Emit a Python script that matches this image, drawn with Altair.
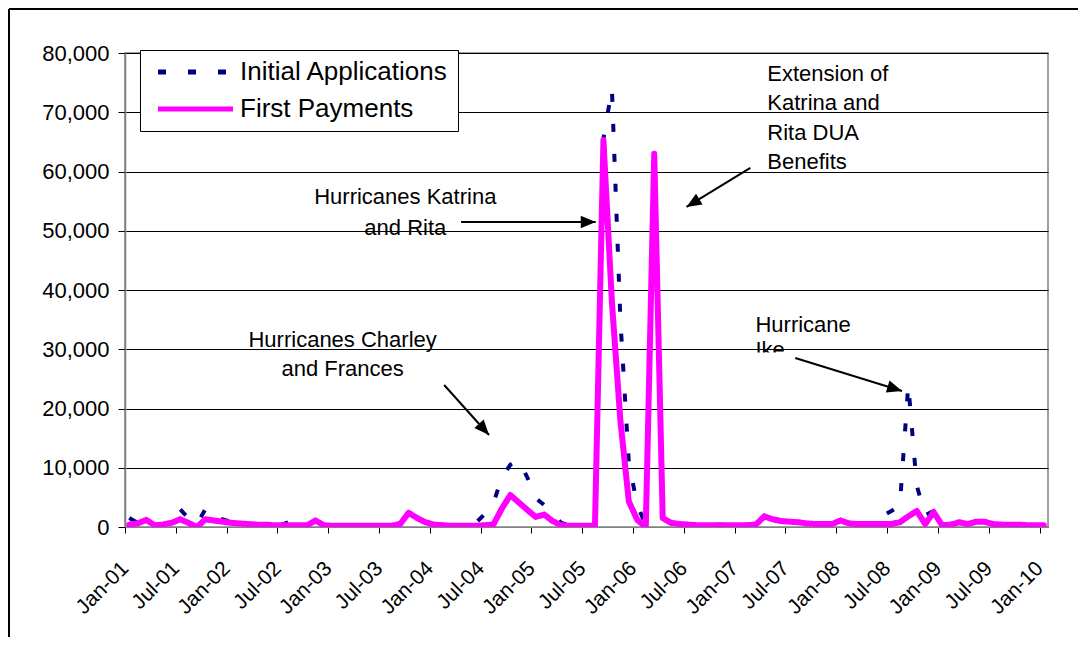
import json
import math
import altair as alt
import pandas as pd

# ---------------- data (monthly, Jan-01 .. Jan-10) ----------------
tick_labels = ["Jan-01", "Jul-01", "Jan-02", "Jul-02", "Jan-03", "Jul-03", "Jan-04",
               "Jul-04", "Jan-05", "Jul-05", "Jan-06", "Jul-06", "Jan-07", "Jul-07",
               "Jan-08", "Jul-08", "Jan-09", "Jul-09", "Jan-10"]

initial_applications = (
    [1500, 700, 1000, 500, 500, 900, 3000, 1500, 500, 3000, 1200, 1300] +      # 2001
    [900, 700, 600, 500, 500, 400, 400, 900, 400, 400, 1100, 400] +           # 2002
    [300, 300, 300, 300, 300, 300, 300, 300, 600, 2500, 1500, 800] +          # 2003
    [500, 400, 300, 300, 300, 800, 2200, 4000, 8300, 10500, 11300, 8400] +    # 2004
    [4900, 3700, 2400, 700, 300, 300, 300, 300, 65500, 74000, 35000, 10800] + # 2005
    [3700, 300, 63500, 1500, 800, 500, 400, 400, 400, 400, 400, 400] +        # 2006
    [400, 400, 500, 1800, 1300, 1000, 900, 800, 600, 600, 1000, 600] +        # 2007
    [1100, 600, 600, 600, 800, 1900, 2700, 3500, 24000, 7000, 2000, 2700] +   # 2008
    [400, 500, 800, 600, 900, 900, 600, 400, 400, 400, 300, 300] +            # 2009
    [300]                                                                      # 2010
)

first_payments = (
    [400, 600, 1200, 300, 400, 700, 1300, 700, 0, 1300, 1100, 900] +          # 2001
    [700, 600, 500, 400, 400, 300, 300, 300, 300, 300, 1100, 300] +           # 2002
    [200, 200, 200, 200, 200, 200, 200, 200, 500, 2400, 1500, 800] +          # 2003
    [400, 300, 200, 200, 200, 200, 300, 400, 3100, 5400, 4150, 2900] +        # 2004
    [1700, 2100, 1000, 300, 200, 200, 200, 200, 65300, 38000, 18000, 4300] +  # 2005
    [1200, 0, 63000, 1500, 700, 500, 400, 300, 300, 300, 300, 300] +          # 2006
    [300, 300, 400, 1800, 1300, 1000, 900, 800, 600, 500, 500, 500] +         # 2007
    [1100, 600, 500, 500, 500, 500, 500, 800, 1800, 2700, 500, 2500] +        # 2008
    [300, 400, 800, 500, 900, 900, 500, 400, 400, 400, 300, 300] +            # 2009
    [300]                                                                      # 2010
)

series_names = ["Initial Applications", "First Payments"]
series_colors = ["#000080", "#FF00FF"]

# annotations (month index, value)
center_text = ["Hurricanes Charley", "and Frances", "Hurricanes Katrina", "and Rita"]
center_m = [25.7, 25.7, 33.1, 33.1]
center_v = [31600, 26700, 55700, 50500]

left_text = ["Extension of", "Katrina and", "Rita DUA", "Benefits", "Hurricane", "Ike"]
left_m = [75.85, 75.85, 75.85, 75.85, 74.45, 74.45]
left_v = [76500, 71600, 66500, 61600, 34100, 29900]

# white box of the text frame that hides the lower half of "Ike"
mask_m = [74.0]
mask_m2 = [78.5]
mask_v = [29450]
mask_v2 = [27300]

arrow_m1 = [37.69, 39.69, 73.85, 79.15]
arrow_v1 = [23970, 51480, 60600, 28530]
arrow_m2 = [42.99, 55.59, 66.31, 91.76]
arrow_v2 = [15530, 51480, 54020, 22960]

# ---------------- layout ----------------
W, H = 923, 474
PX_PER_MONTH = W / 109.0
PX_PER_UNIT = H / 80000.0

rows = []
for i, (a, f) in enumerate(zip(initial_applications, first_payments)):
    rows.append({"m": i + 0.5, "series": series_names[0], "v": a})
    rows.append({"m": i + 0.5, "series": series_names[1], "v": f})
df = pd.DataFrame(rows)

x_scale = alt.Scale(domain=[0, 109], nice=False, zero=False)
y_scale = alt.Scale(domain=[0, 80000], nice=False)
x_axis = alt.Axis(
    values=list(range(0, 109, 6)),
    labelExpr=json.dumps(tick_labels) + "[round(datum.value/6)]",
    labelAngle=-45, labelAlign="right", labelBaseline="middle",
    labelPadding=32, labelFontSize=21, labelOverlap=False, tickSize=6,
    grid=False, title=None, domainColor="#808080", tickColor="#000000",
    labelColor="#000000",
)
y_axis = alt.Axis(
    values=list(range(0, 80001, 10000)),
    labelExpr="format(datum.value, ',')",
    labelFontSize=22, labelPadding=9, tickSize=7, grid=True,
    gridColor="#000000", gridWidth=1, title=None, labelOverlap=False,
    domainColor="#808080", domainWidth=1.5, tickColor="#000000",
    labelColor="#000000",
)


def X(f):
    return alt.X(f, scale=x_scale, axis=x_axis)


def Y(f):
    return alt.Y(f, scale=y_scale, axis=y_axis)


color_enc = alt.Color(
    "series:N",
    scale=alt.Scale(domain=series_names, range=series_colors),
    legend=alt.Legend(
        title=None, orient="none", legendX=15, legendY=-3,
        symbolType="M-0.4,0H7.1", symbolSize=400, symbolStrokeWidth=5,
        labelFontSize=26, labelOffset=65, labelColor="#000000",
        padding=9, rowPadding=11, strokeColor="#000000",
        fillColor="#FFFFFF", labelLimit=400,
    ),
)
dash_enc = alt.StrokeDash(
    "series:N",
    scale=alt.Scale(domain=series_names, range=[[8, 22], [1, 0]]),
    legend=None,
)

base = alt.Chart(df)
ia_line = base.transform_filter(alt.datum.series == series_names[0]).mark_line(
    strokeWidth=4, strokeJoin="miter", clip=True
).encode(x=X("m:Q"), y=Y("v:Q"), color=color_enc, strokeDash=dash_enc)
fp_line = base.transform_filter(alt.datum.series == series_names[1]).mark_line(
    strokeWidth=6, strokeJoin="round", strokeCap="round", clip=True
).encode(x=X("m:Q"), y=Y("v:Q"), color=color_enc, strokeDash=dash_enc)

ct = pd.DataFrame({"t": center_text, "m": center_m, "v": center_v})
lt = pd.DataFrame({"t": left_text, "m": left_m, "v": left_v})
center_layer = alt.Chart(ct).mark_text(
    fontSize=22, align="center", baseline="middle", color="#000000"
).encode(x=X("m:Q"), y=Y("v:Q"), text="t:N")
left_layer = alt.Chart(lt).mark_text(
    fontSize=22, align="left", baseline="middle", color="#000000"
).encode(x=X("m:Q"), y=Y("v:Q"), text="t:N")

mk = pd.DataFrame({"m": mask_m, "m2": mask_m2, "v": mask_v, "v2": mask_v2})
mask_layer = alt.Chart(mk).mark_rect(color="#FFFFFF", opacity=1).encode(
    x=X("m:Q"), x2="m2:Q", y=Y("v:Q"), y2="v2:Q"
)

angles = []
for m1, v1, m2, v2 in zip(arrow_m1, arrow_v1, arrow_m2, arrow_v2):
    dx = (m2 - m1) * PX_PER_MONTH
    dy = -(v2 - v1) * PX_PER_UNIT
    angles.append((math.degrees(math.atan2(dy, dx)) + 360) % 360)
ar = pd.DataFrame({"m1": arrow_m1, "v1": arrow_v1, "m2": arrow_m2, "v2": arrow_v2, "ang": angles})
arrow_lines = alt.Chart(ar).mark_rule(color="#000000", strokeWidth=2).encode(
    x=X("m1:Q"), y=Y("v1:Q"), x2="m2:Q", y2="v2:Q"
)
arrow_heads = alt.Chart(ar).mark_point(
    shape="M0,0L-1,-0.42L-1,0.42Z", filled=True, size=900, color="#000000", opacity=1
).encode(x=X("m2:Q"), y=Y("v2:Q"), angle=alt.Angle("ang:Q", scale=None))

frame_df = pd.DataFrame({"k": [0]})
frame_left = alt.Chart(frame_df).mark_rule(color="#000000", strokeWidth=2).encode(
    x=alt.value(-116), y=alt.value(-44), y2=alt.value(H + 110)
)
frame_top = alt.Chart(frame_df).mark_rule(color="#000000", strokeWidth=2).encode(
    x=alt.value(-116), x2=alt.value(W + 30), y=alt.value(-44)
)

chart = alt.layer(
    ia_line, fp_line, center_layer, left_layer, mask_layer, arrow_lines, arrow_heads,
    frame_left, frame_top
).resolve_scale(color="shared").properties(
    width=W, height=H,
    autosize=alt.AutoSizeParams(type="none"),
    padding={"left": 117, "top": 45, "right": 30, "bottom": 110},
).configure(
    font="Liberation Sans",
).configure_view(
    stroke="#808080", strokeWidth=1.5, fill="#FFFFFF"
).configure_axis(
    labelFont="Liberation Sans"
)

chart.save("out.html", embed_options={"renderer": "svg", "actions": False})
